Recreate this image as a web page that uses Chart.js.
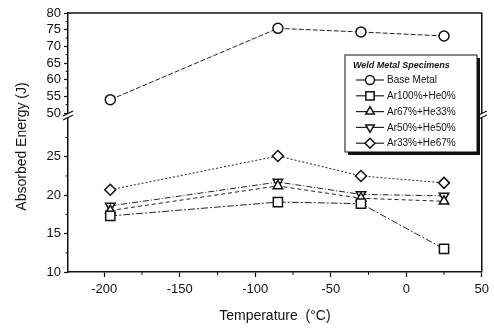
<!DOCTYPE html>
<html>
<head>
<meta charset="utf-8">
<script src="https://cdn.jsdelivr.net/npm/chart.js@4.4.0/dist/chart.umd.min.js"></script>
<style>
  html, body { margin: 0; padding: 0; background: #fff; }
</style>
</head>
<body>
<canvas id="chart" width="494" height="331"></canvas>
<script>
// --- data ---
const temperatures = [-196, -85, -30, 25];
const baseMetal = [54.0, 75.4, 74.3, 73.1];
const ar100He0 = [17.3, 19.1, 18.9, 13.0];
const ar67He33 = [18.0, 21.2, 19.6, 19.2];
const ar50He50 = [18.6, 21.7, 20.1, 19.9];
const ar33He67 = [20.7, 25.1, 22.5, 21.6];

const xTicks = [-200, -150, -100, -50, 0, 50];
const xMinor = [-175, -125, -75, -25, 25];
const upperTicks = [50, 55, 60, 65, 70, 75, 80];
const upperMinor = [52.5, 57.5, 62.5, 67.5, 72.5, 77.5];
const lowerTicks = [10, 15, 20, 25];
const lowerMinor = [12.5, 17.5, 22.5, 27.5];

const ink = '#111';
const font = 'Arial, "Liberation Sans", sans-serif';

const toPoints = vals => vals.map((v, i) => ({ x: temperatures[i], y: v }));

const series = [
    { label: 'Base Metal', data: baseMetal, axis: 'yTop', style: 'circle', radius: 5, rotation: 0, dash: [5, 2] },
    { label: 'Ar100%+He0%', data: ar100He0, axis: 'y', style: 'rect', radius: 6.5, rotation: 0, dash: [7, 2, 2, 2] },
    { label: 'Ar67%+He33%', data: ar67He33, axis: 'y', style: 'triangle', radius: 5.5, rotation: 0, dash: [4, 3] },
    { label: 'Ar50%+He50%', data: ar50He50, axis: 'y', style: 'triangle', radius: 5.5, rotation: 180, dash: [6, 2, 1, 2] },
    { label: 'Ar33%+He67%', data: ar33He67, axis: 'y', style: 'rectRot', radius: 5.5, rotation: 0, dash: [2, 2] },
];

const datasets = series.map(s => ({
    label: s.label,
    data: toPoints(s.data),
    yAxisID: s.axis,
    borderColor: '#222',
    borderWidth: 1,
    borderDash: s.dash,
    pointStyle: s.style,
    pointRadius: s.radius,
    pointRotation: s.rotation,
    pointBackgroundColor: '#fff',
    pointBorderColor: ink,
    pointBorderWidth: 1.5,
    tension: 0,
}));

const setTicks = list => scale => { scale.ticks = list.map(v => ({ value: v })); };

const yCommon = {
    type: 'linear',
    position: 'left',
    stack: 'energy',
    afterFit: scale => { scale.width = 64; },
    grid: { drawOnChartArea: false, tickLength: 4, color: ink, tickWidth: 1.2 },
    border: { color: ink, width: 1.5 },
    ticks: { color: ink, font: { size: 13, family: font }, padding: 3, autoSkip: false },
};

// --- extras: frame, minor ticks, axis breaks, y title, legend ---
const extras = {
    id: 'extras',
    afterDraw(chart) {
        const ctx = chart.ctx;
        const area = chart.chartArea;
        const { x, y, yTop } = chart.scales;
        const breakY = yTop.bottom;

        ctx.save();
        ctx.strokeStyle = ink;
        ctx.lineWidth = 1.5;
        ctx.beginPath();
        ctx.moveTo(area.left, area.top);
        ctx.lineTo(area.right, area.top);
        ctx.lineTo(area.right, area.bottom);
        ctx.stroke();

        // minor ticks
        ctx.lineWidth = 1;
        ctx.beginPath();
        xMinor.forEach(v => {
            const px = x.getPixelForValue(v);
            ctx.moveTo(px, area.bottom);
            ctx.lineTo(px, area.bottom + 3);
        });
        upperMinor.forEach(v => {
            const py = yTop.getPixelForValue(v);
            ctx.moveTo(area.left - 2.5, py);
            ctx.lineTo(area.left, py);
        });
        lowerMinor.forEach(v => {
            const py = y.getPixelForValue(v);
            ctx.moveTo(area.left - 2.5, py);
            ctx.lineTo(area.left, py);
        });
        ctx.stroke();

        // axis breaks
        [area.left, area.right].forEach(bx => {
            ctx.fillStyle = '#fff';
            ctx.fillRect(bx - 3, breakY - 2, 6, 4);
            ctx.strokeStyle = ink;
            ctx.lineWidth = 1.3;
            ctx.beginPath();
            ctx.moveTo(bx - 5, breakY);
            ctx.lineTo(bx + 5, breakY - 5);
            ctx.moveTo(bx - 5, breakY + 4);
            ctx.lineTo(bx + 5, breakY - 1);
            ctx.stroke();
        });

        // y axis title
        ctx.fillStyle = ink;
        ctx.font = `14px ${font}`;
        ctx.textAlign = 'center';
        ctx.textBaseline = 'middle';
        ctx.translate(22, (area.top + area.bottom) / 2 + 4);
        ctx.rotate(-Math.PI / 2);
        ctx.fillText('Absorbed Energy (J)', 0, 0);
        ctx.restore();

        // legend
        ctx.save();
        const lx = 345, ly = 55, lw = 132, lh = 97;
        ctx.fillStyle = ink;
        ctx.fillRect(lx + 3, ly + 3, lw, lh);
        ctx.fillStyle = '#fff';
        ctx.fillRect(lx, ly, lw, lh);
        ctx.strokeStyle = ink;
        ctx.lineWidth = 1;
        ctx.strokeRect(lx, ly, lw, lh);
        ctx.fillStyle = ink;
        ctx.textAlign = 'left';
        ctx.textBaseline = 'middle';
        ctx.font = `italic bold 9px ${font}`;
        ctx.fillText('Weld Metal Specimens', lx + 8, ly + 11);
        ctx.font = `10px ${font}`;
        series.forEach((s, i) => {
            const ey = ly + 25 + i * 15.8;
            ctx.strokeStyle = '#222';
            ctx.lineWidth = 1.2;
            ctx.beginPath();
            ctx.moveTo(lx + 11, ey);
            ctx.lineTo(lx + 39, ey);
            ctx.stroke();
            ctx.fillStyle = '#fff';
            ctx.strokeStyle = ink;
            ctx.lineWidth = 1.5;
            Chart.helpers.drawPoint(ctx, {
                pointStyle: s.style,
                radius: s.radius * 0.9,
                rotation: s.rotation,
                borderWidth: 1.5,
            }, lx + 25, ey);
            ctx.fillStyle = ink;
            ctx.fillText(s.label, lx + 42, ey + 0.5);
        });
        ctx.restore();
    }
};

new Chart(document.getElementById('chart'), {
    type: 'line',
    data: { datasets },
    options: {
        responsive: false,
        animation: false,
        layout: { padding: { top: 13, right: 8, left: 4, bottom: 4 } },
        plugins: { legend: { display: false }, tooltip: { enabled: false } },
        scales: {
            x: {
                type: 'linear',
                min: -224,
                max: 50,
                afterBuildTicks: setTicks(xTicks),
                afterFit: scale => { scale.height = 55; },
                grid: { drawOnChartArea: false, tickLength: 5, color: ink, tickWidth: 1.2 },
                border: { color: ink, width: 1.5 },
                ticks: { color: ink, font: { size: 13, family: font }, padding: 5, autoSkip: false },
                title: {
                    display: true,
                    text: 'Temperature  (°C)',
                    color: ink,
                    font: { size: 14, family: font },
                    padding: { top: 0, bottom: 2 },
                },
            },
            y: Object.assign({}, yCommon, {
                min: 10,
                max: 30.3,
                stackWeight: 156,
                afterBuildTicks: setTicks(lowerTicks),
            }),
            yTop: Object.assign({}, yCommon, {
                min: 49.1,
                max: 80,
                stackWeight: 103,
                afterBuildTicks: setTicks(upperTicks),
            }),
        },
    },
    plugins: [extras],
});
</script>
</body>
</html>
